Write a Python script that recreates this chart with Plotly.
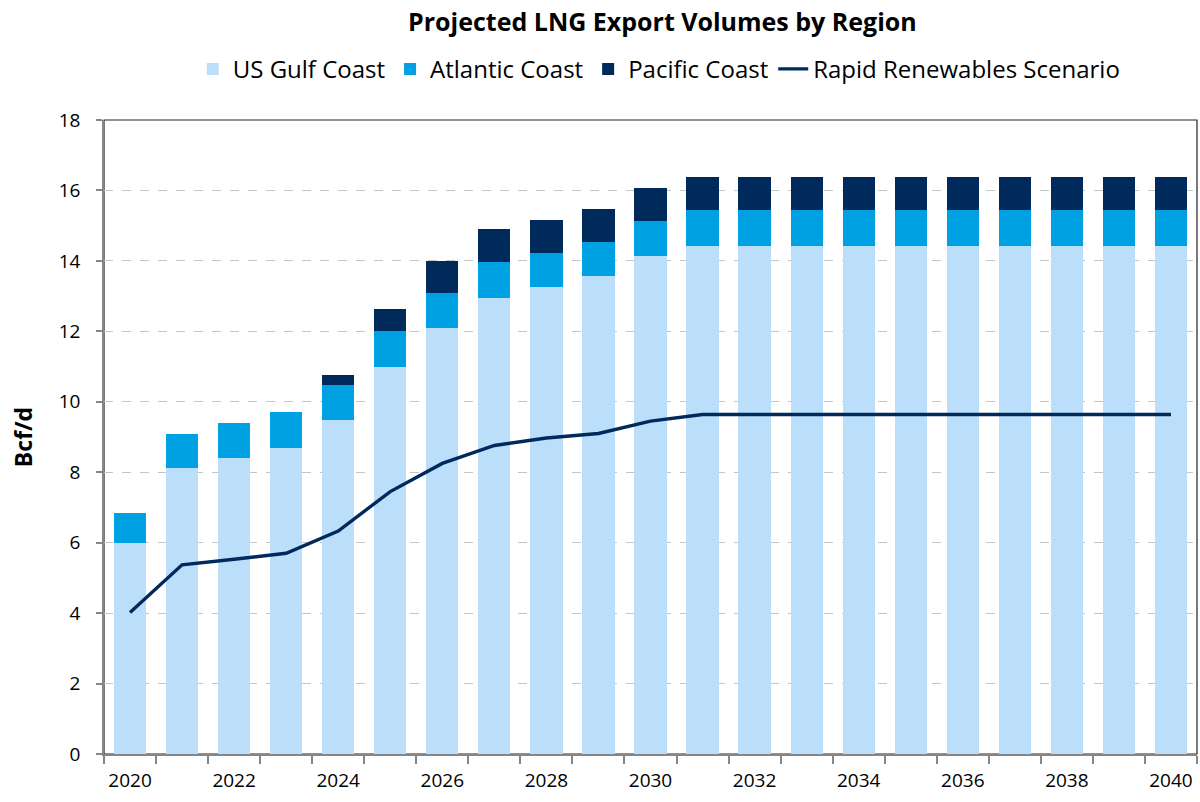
import plotly.graph_objects as go

years = list(range(2020, 2041))

# Stacked export volumes by region (Bcf/d)
gulf_coast = [6.00, 8.11, 8.41, 8.69, 9.47, 10.99, 12.09, 12.95, 13.26, 13.57, 14.15,
              14.42, 14.42, 14.42, 14.42, 14.42, 14.42, 14.42, 14.42, 14.42, 14.42]
atlantic_coast = [0.85, 0.98, 0.98, 1.01, 1.01, 1.02, 1.00, 1.01, 0.96, 0.97, 0.98,
                  1.02, 1.02, 1.02, 1.02, 1.02, 1.02, 1.02, 1.02, 1.02, 1.02]
pacific_coast = [0.00, 0.00, 0.00, 0.00, 0.28, 0.62, 0.91, 0.94, 0.94, 0.93, 0.93,
                 0.93, 0.93, 0.93, 0.93, 0.93, 0.93, 0.93, 0.93, 0.93, 0.93]

# Total exports under the rapid renewables scenario (Bcf/d)
rapid_renewables = [4.02, 5.37, 5.53, 5.70, 6.33, 7.45, 8.25, 8.76, 8.97, 9.10, 9.45,
                    9.64, 9.64, 9.64, 9.64, 9.64, 9.64, 9.64, 9.64, 9.64, 9.64]

x_tick_labels = [str(y) for y in range(2020, 2041, 2)]

C_GULF = "#BBDFFB"
C_ATL = "#00A1E2"
C_PAC = "#002A5C"
FONT = "'Open Sans', 'Noto Sans', sans-serif"

fig = go.Figure()
bar_w = 0.62
fig.add_trace(go.Bar(x=years, y=gulf_coast, name="US Gulf Coast", marker_color=C_GULF,
                     width=bar_w, marker_line_width=0))
fig.add_trace(go.Bar(x=years, y=atlantic_coast, name="Atlantic Coast", marker_color=C_ATL,
                     width=bar_w, marker_line_width=0))
fig.add_trace(go.Bar(x=years, y=pacific_coast, name="Pacific Coast", marker_color=C_PAC,
                     width=bar_w, marker_line_width=0))
fig.add_trace(go.Scatter(x=years, y=rapid_renewables, name="Rapid Renewables Scenario",
                         mode="lines", line=dict(color=C_PAC, width=3.4)))

fig.update_layout(
    width=1200, height=802,
    barmode="stack",
    plot_bgcolor="white", paper_bgcolor="white",
    margin=dict(l=104, r=3, t=120, b=48),
    title=dict(text="<b>Projected LNG Export Volumes by Region</b>",
               x=0.552, xanchor="center", y=0.972, yanchor="middle",
               font=dict(family=FONT, size=25, color="black")),
    legend=dict(orientation="h", x=0.508, xanchor="center", y=1.08, yanchor="middle",
                font=dict(family=FONT, size=24, color="black"),
                traceorder="normal", itemwidth=30, bgcolor="rgba(0,0,0,0)"),
    font=dict(family=FONT, color="black"),
    shapes=[dict(type="rect", xref="paper", yref="paper", x0=0, x1=1, y0=0, y1=1,
                 line=dict(color="#222222", width=1.2), layer="below")],
)

fig.update_xaxes(
    range=[2019.5, 2040.5],
    tickmode="array", tickvals=list(range(2020, 2041, 2)), ticktext=x_tick_labels,
    ticks="", tickfont=dict(family=FONT, size=19, color="black"),
    ticklabelstandoff=8,
    showgrid=False, zeroline=False,
    showline=True, linecolor="#868686", linewidth=1.5,
    minor=dict(tickmode="linear", tick0=2019.5, dtick=1, ticks="outside",
               ticklen=8, tickcolor="#868686", tickwidth=1.5, showgrid=False),
)
fig.update_yaxes(
    range=[0, 18], dtick=2,
    ticks="outside", ticklen=6, tickcolor="#868686", tickwidth=1.5,
    tickfont=dict(family=FONT, size=19, color="black"),
    ticklabelstandoff=12,
    showgrid=True, gridcolor="#C4C4C4", griddash="dash", gridwidth=1.2,
    zeroline=False, showline=True, linecolor="#868686", linewidth=1.5,
    title=dict(text="<b>Bcf/d</b>", font=dict(family=FONT, size=23, color="black"),
               standoff=20),
)

fig.write_html("out.html")
